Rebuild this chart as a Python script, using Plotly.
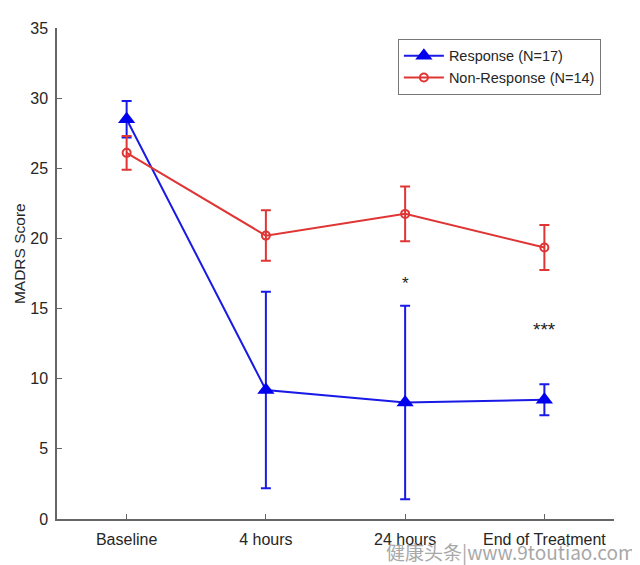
import plotly.graph_objects as go

categories = ["Baseline", "4 hours", "24 hours", "End of Treatment"]
x_pos = [1, 2, 3, 4]

response_mean = [28.5, 9.2, 8.3, 8.5]
response_err = [1.3, 7.0, 6.9, 1.1]

nonresponse_mean = [26.1, 20.2, 21.75, 19.35]
nonresponse_err = [1.2, 1.8, 1.95, 1.6]

sig_x = [3, 4]
sig_y = [16.8, 13.5]
sig_text = ["*", "***"]
sig_size = [17, 19]

BLUE = "#1a1ae6"
RED = "#e03535"
AX = "#666666"
FONT = "Liberation Sans, Arial, sans-serif"

fig = go.Figure()
fig.add_trace(go.Scatter(
    x=x_pos, y=response_mean, mode="lines+markers", name="Response (N=17)",
    line=dict(color=BLUE, width=2),
    marker=dict(symbol="triangle-up", size=15, color="#0000ee"),
    error_y=dict(type="data", array=response_err, visible=True, color=BLUE,
                 thickness=2, width=5),
))
fig.add_trace(go.Scatter(
    x=x_pos, y=nonresponse_mean, mode="lines+markers", name="Non-Response (N=14)",
    line=dict(color=RED, width=2),
    marker=dict(symbol="circle-open", size=8, color=RED, line=dict(width=2, color=RED)),
    error_y=dict(type="data", array=nonresponse_err, visible=True, color=RED,
                 thickness=2, width=5),
))

for xx, yy, tt, ss in zip(sig_x, sig_y, sig_text, sig_size):
    fig.add_annotation(x=xx, y=yy, text=tt, showarrow=False,
                       font=dict(size=ss, color="#222222", family=FONT))

# y-axis title
fig.add_annotation(xref="paper", yref="paper", x=-0.066, y=0.54, text="MADRS Score",
                   textangle=-90, showarrow=False, xanchor="center", yanchor="middle",
                   font=dict(size=15.5, color="#262626", family=FONT))

# watermark
fig.add_annotation(xref="paper", yref="paper", x=1.043, y=-0.068, xanchor="right",
                   yanchor="middle", text="健康头条|www.9toutiao.com", showarrow=False,
                   font=dict(size=19, color="#a8a8a8", family="Noto Sans CJK SC, sans-serif"))

fig.update_layout(
    width=640, height=565,
    margin=dict(l=49, r=34, t=18, b=54),
    paper_bgcolor="white", plot_bgcolor="white",
    font=dict(family=FONT, size=16, color="#262626"),
    showlegend=True,
    legend=dict(x=0.612, y=0.978, xanchor="left", yanchor="top",
                bordercolor="#777777", borderwidth=1, bgcolor="white",
                font=dict(size=14.5, color="#262626"), tracegroupgap=0,
                itemwidth=40),
    xaxis=dict(range=[0.5, 4.5], tickmode="array", tickvals=x_pos, ticktext=categories,
               showgrid=False, zeroline=False, showline=True, linecolor=AX, linewidth=1.5,
               ticks="inside", ticklen=5, tickcolor=AX, tickfont=dict(size=16),
               ticklabelstandoff=5),
    yaxis=dict(range=[0, 35], tickmode="linear", dtick=5, showgrid=False, zeroline=False,
               showline=True, linecolor=AX, linewidth=1.5, ticks="inside", ticklen=5,
               tickcolor=AX, tickfont=dict(size=16), ticklabelstandoff=4),
)

fig.write_html("out.html")
